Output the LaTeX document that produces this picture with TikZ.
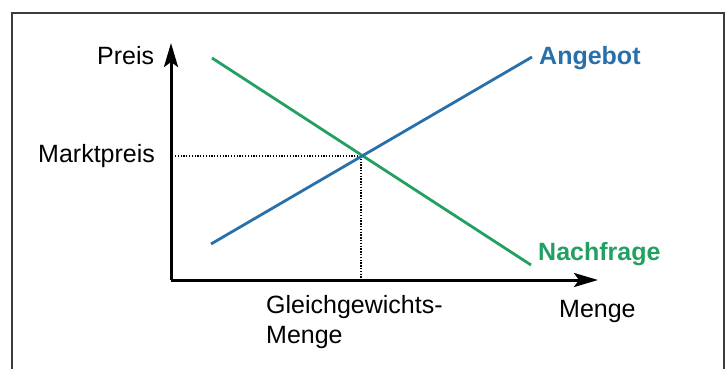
\documentclass[tikz,border=0pt]{standalone}
\usepackage{fontspec}
\setmainfont{Liberation Sans}
\usetikzlibrary{arrows.meta}
\definecolor{angebotc}{RGB}{40,112,172}
\definecolor{nachfragec}{RGB}{34,160,98}
\definecolor{framec}{RGB}{60,60,60}
\tikzset{
  axisline/.style={line width=3pt, black, -{Stealth[length=24pt,width=14pt,inset=5pt]}},
  curveline/.style={line width=2.8pt},
  guide/.style={line width=1.3pt, black, dash pattern=on 1.3pt off 1.5pt},
  lbl/.style={inner sep=0pt, anchor=base west, font=\fontsize{25}{30}\selectfont},
  blbl/.style={lbl, font=\fontsize{25}{30}\selectfont\bfseries},
}
\begin{document}
\begin{tikzpicture}[x=1pt,y=-1pt]
\useasboundingbox (0,0) rectangle (728,369);
\fill[white] (0,0) rectangle (728,369);
\draw[line width=2pt, framec] (12,370) -- (12,13) -- (724,13) -- (724,370);
% axes
\coordinate (O) at (171,280);
\coordinate (ytip) at (171,43);
\coordinate (xtip) at (598,280);
\draw[axisline] (O) -- (ytip);
\draw[axisline] (O) -- (xtip);
% curves
\coordinate (a1) at (211,244);
\coordinate (a2) at (532,57);
\coordinate (n1) at (212,58);
\coordinate (n2) at (531,265);
\coordinate (E) at (361,156);
\draw[guide] (E) -- (E -| O);
\draw[guide] (E) -- (E |- O);
\draw[curveline, nachfragec] (n1) -- (n2);
\draw[curveline, angebotc] (a1) -- (a2);
% labels
\node[lbl] (preis) at (97,65) {Preis};
\node[lbl] (markt) at (38,162) {Marktpreis};
\node[lbl] (gg1) at (266,313) {Gleichgewichts-};
\node[lbl] (gg2) at (266,343) {Menge};
\node[lbl] (menge) at (559,317) {Menge};
\node[blbl, text=angebotc] (ang) at (539,65) {Angebot};
\node[blbl, text=nachfragec] (nach) at (538,260) {Nachfrage};
\end{tikzpicture}
\end{document}
